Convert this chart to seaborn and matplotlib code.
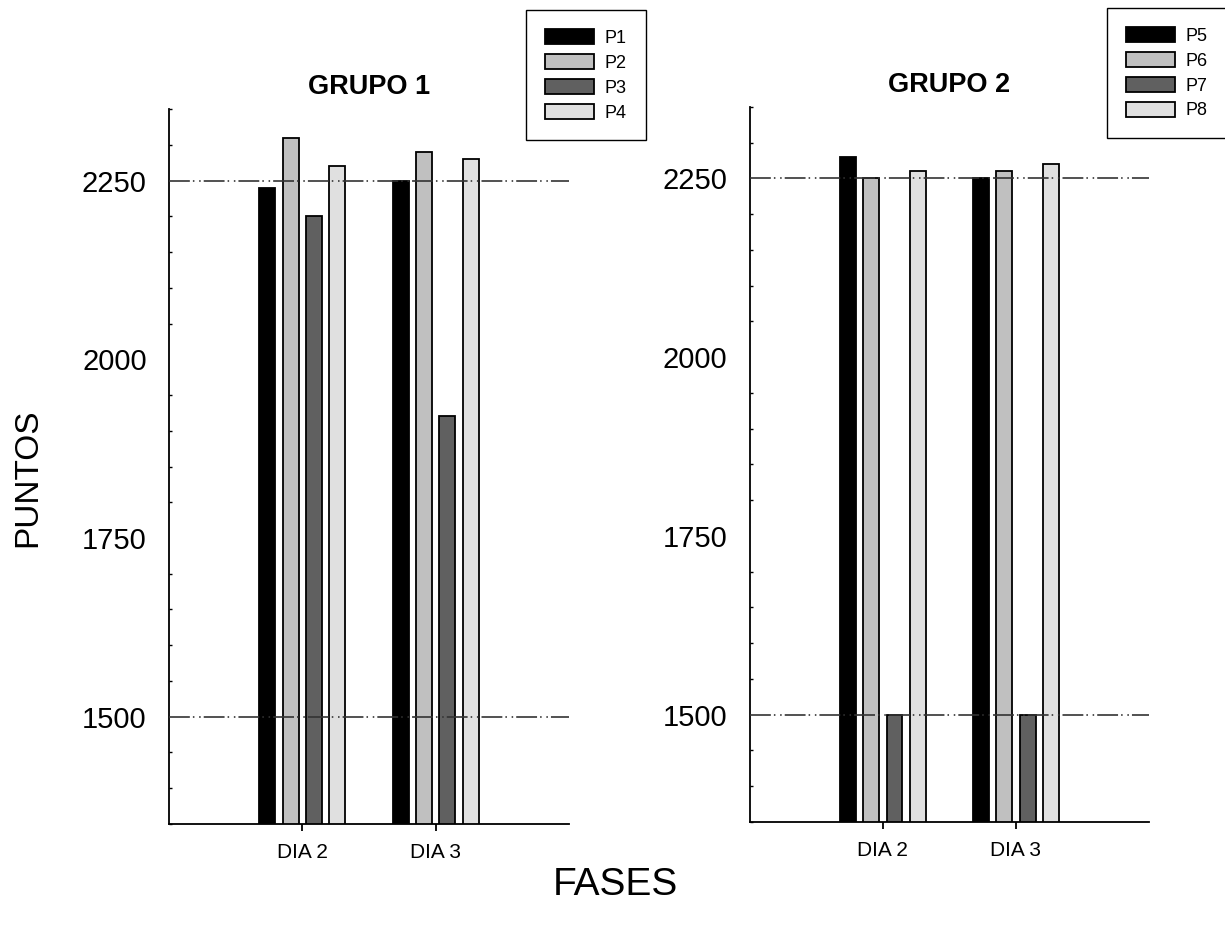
import matplotlib
matplotlib.use("Agg")
import matplotlib.pyplot as plt
from matplotlib.ticker import MultipleLocator, FixedLocator
from matplotlib.patches import Patch
import seaborn as sns
import pandas as pd

# Categories and series values
fases = ["DIA 2", "DIA 3"]

grupo1_names = ["P1", "P2", "P3", "P4"]
grupo1_vals = {
    "P1": [2240, 2250],
    "P2": [2310, 2290],
    "P3": [2200, 1920],
    "P4": [2270, 2280],
}

grupo2_names = ["P5", "P6", "P7", "P8"]
grupo2_vals = {
    "P5": [2280, 2250],
    "P6": [2250, 2260],
    "P7": [1500, 1500],
    "P8": [2260, 2270],
}

reference_levels = [1500, 2250]
y_ticks = [1500, 1750, 2000, 2250]
fills = ["#000000", "#c0c0c0", "#606060", "#e0e0e0"]

sns.set_theme(style="white")
plt.rcParams["font.family"] = ["Liberation Sans", "DejaVu Sans"]
plt.rcParams["lines.scale_dashes"] = False
for key in ("text.color", "axes.labelcolor", "xtick.color", "ytick.color"):
    plt.rcParams[key] = "black"

fig = plt.figure(figsize=(12.25, 9.36), dpi=100)
ax1 = fig.add_axes([0.138, 0.1197, 0.3265, 0.7638])
ax2 = fig.add_axes([0.612, 0.1218, 0.326, 0.7639])


def long_table(names, vals):
    rows = []
    for n in names:
        for f, v in zip(fases, vals[n]):
            rows.append({"fase": f, "serie": n, "puntos": v})
    return pd.DataFrame(rows)


def draw_panel(ax, names, vals, title):
    df = long_table(names, vals)
    sns.barplot(
        data=df, x="fase", y="puntos", hue="serie", order=fases,
        hue_order=names, palette=dict(zip(names, fills)), width=0.7,
        gap=0.32, edgecolor="black", linewidth=1.3, legend=False, ax=ax,
        errorbar=None, saturation=1,
    )
    ax.set_xlim(-1, 2)
    ax.set_ylim(1350, 2350)
    for lvl in reference_levels:
        ax.axhline(lvl, color="#333333", linewidth=1.2,
                   dashes=(15, 2.2, 1.1, 3.4, 1.1, 2.2), zorder=3)
    for side in ("top", "right"):
        ax.spines[side].set_visible(False)
    for side in ("left", "bottom"):
        ax.spines[side].set_color("black")
        ax.spines[side].set_linewidth(1.3)
    ax.yaxis.set_major_locator(FixedLocator(y_ticks))
    ax.yaxis.set_minor_locator(MultipleLocator(50))
    ax.tick_params(axis="y", which="major", direction="out", length=6,
                   width=1.3, color="black", labelsize=21, pad=10)
    ax.tick_params(axis="y", which="minor", direction="in", length=2.5,
                   width=1.0, color="black", left=True)
    ax.tick_params(axis="x", direction="out", length=5, width=1.3,
                   color="black", labelsize=15, pad=9, bottom=True)
    ax.set_xlabel("")
    ax.set_ylabel("")
    ax.set_title(title, fontsize=19.5, fontweight="bold", pad=11,
                 color="black")


draw_panel(ax1, grupo1_names, grupo1_vals, "GRUPO 1")
draw_panel(ax2, grupo2_names, grupo2_vals, "GRUPO 2")


def add_legend(names, anchor):
    handles = [Patch(facecolor=c, edgecolor="black", linewidth=1.3, label=n)
               for n, c in zip(names, fills)]
    leg = fig.legend(
        handles=handles, loc="upper left", bbox_to_anchor=anchor,
        bbox_transform=fig.transFigure, fontsize=13, frameon=True,
        fancybox=False, handlelength=2.7, handleheight=0.9,
        labelspacing=0.4, borderpad=1.05, handletextpad=0.6,
        borderaxespad=0,
    )
    frame = leg.get_frame()
    frame.set_edgecolor("black")
    frame.set_linewidth(1.0)
    frame.set_alpha(1)


add_legend(grupo1_names, (0.4294, 0.9893))
add_legend(grupo2_names, (0.9037, 0.9915))

fig.text(0.023, 0.49, "PUNTOS", rotation=90, fontsize=24,
         ha="center", va="center")
fig.text(0.502, 0.054, "FASES", fontsize=28, ha="center", va="center")

fig.savefig("out.png", dpi=100)
